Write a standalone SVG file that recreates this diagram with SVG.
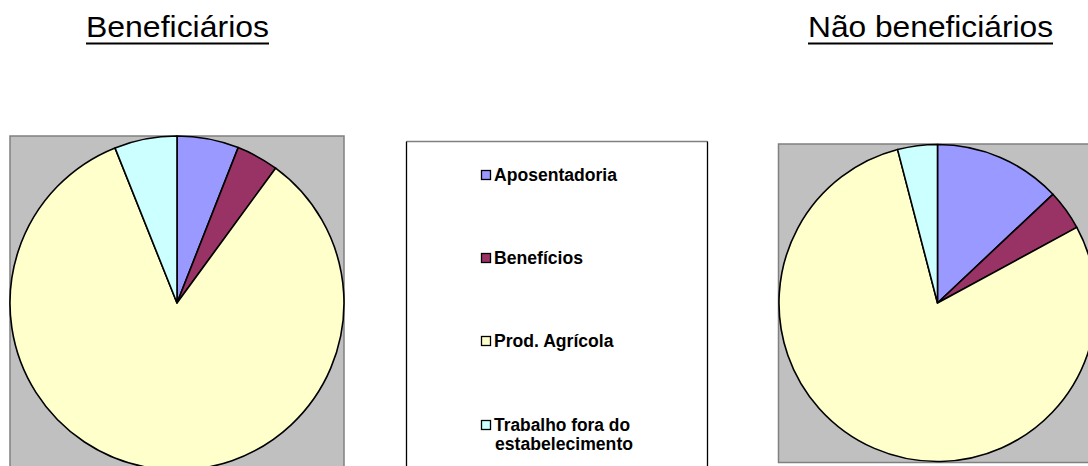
<svg xmlns="http://www.w3.org/2000/svg" width="1088" height="466" viewBox="0 0 1088 466">
<style>
.plot{fill:#C0C0C0;stroke:#808080;stroke-width:1.5}
.sl{stroke:#000;stroke-width:1.6;stroke-linejoin:round}
.ap{fill:#9999FF}.be{fill:#993366}.pr{fill:#FFFFCC}.tr{fill:#CCFFFF}
.title{font-family:"Liberation Sans",Arial,sans-serif;font-size:29px;fill:#000}
.lg{font-family:"Liberation Sans",Arial,sans-serif;font-size:17.5px;font-weight:bold;fill:#000}
.sw{stroke:#000;stroke-width:1.3}
</style>
<rect width="1088" height="466" fill="#fff"/>
<g id="title-left">
<text class="title" x="86" y="37" textLength="183" lengthAdjust="spacingAndGlyphs">Beneficiários</text>
<rect x="86" y="42.5" width="183" height="2" fill="#000"/>
</g>
<g id="title-right">
<text class="title" x="808" y="37" textLength="245" lengthAdjust="spacingAndGlyphs">Não beneficiários</text>
<rect x="808" y="42.5" width="245" height="2" fill="#000"/>
</g>
<g id="pie-left">
<rect class="plot" x="10" y="136" width="334" height="340"/>
<path class="sl ap" d="M177,303 L177,136 A167,167 0 0 1 238.2,147.6 Z"/>
<path class="sl be" d="M177,303 L238.2,147.6 A167,167 0 0 1 275.6,168.2 Z"/>
<path class="sl pr" d="M177,303 L275.6,168.2 A167,167 0 1 1 115,147.9 Z"/>
<path class="sl tr" d="M177,303 L115,147.9 A167,167 0 0 1 177,136 Z"/>
</g>
<g id="legend">
<rect x="406.5" y="141.5" width="301" height="340" fill="#fff"/>
<line x1="406.5" y1="141.5" x2="707.5" y2="141.5" stroke="#808080" stroke-width="1.5"/>
<line x1="406.5" y1="141.5" x2="406.5" y2="466" stroke="#000" stroke-width="1.3"/>
<line x1="707.5" y1="141.5" x2="707.5" y2="466" stroke="#000" stroke-width="1.3"/>
<rect class="sw ap" x="481.5" y="170.5" width="9" height="9"/>
<text class="lg" x="494" y="180.7" textLength="123" lengthAdjust="spacingAndGlyphs">Aposentadoria</text>
<rect class="sw be" x="481.5" y="253.5" width="9" height="9"/>
<text class="lg" x="494" y="263.5" textLength="89" lengthAdjust="spacingAndGlyphs">Benefícios</text>
<rect class="sw pr" x="481.5" y="336.5" width="9" height="9"/>
<text class="lg" x="494" y="346.5" textLength="119.5" lengthAdjust="spacingAndGlyphs">Prod. Agrícola</text>
<rect class="sw tr" x="481.5" y="420.5" width="9" height="9"/>
<text class="lg" x="494" y="430.7" textLength="136" lengthAdjust="spacingAndGlyphs">Trabalho fora do</text>
<text class="lg" x="495" y="449.5" textLength="138" lengthAdjust="spacingAndGlyphs">estabelecimento</text>
</g>
<g id="pie-right">
<rect class="plot" x="778.5" y="144" width="320" height="318.5"/>
<path class="sl ap" d="M937.5,303 L937.5,144.5 A158.5,158.5 0 0 1 1052.9,194.3 Z"/>
<path class="sl be" d="M937.5,303 L1052.9,194.3 A158.5,158.5 0 0 1 1076.8,227.4 Z"/>
<path class="sl pr" d="M937.5,303 L1076.8,227.4 A158.5,158.5 0 1 1 897.6,149.6 Z"/>
<path class="sl tr" d="M937.5,303 L897.6,149.6 A158.5,158.5 0 0 1 937.5,144.5 Z"/>
</g>
</svg>
